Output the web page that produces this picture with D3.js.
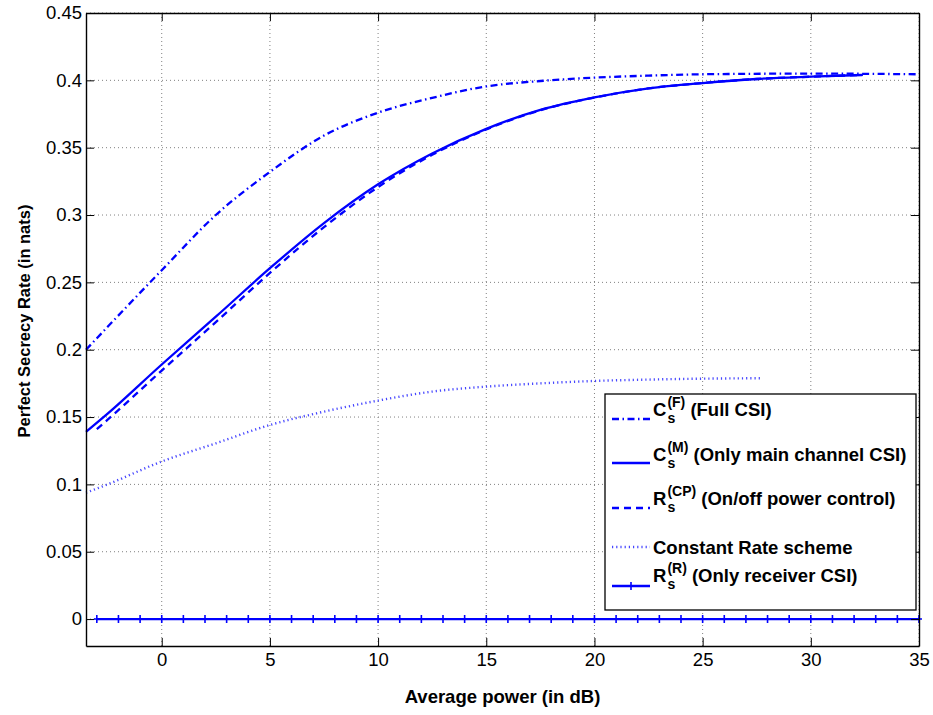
<!DOCTYPE html>
<html>
<head>
<meta charset="utf-8">
<script src="https://cdn.jsdelivr.net/npm/d3@7"></script>
<style>
  body { margin: 0; background: #fff; }
  text { font-family: "Liberation Sans", Arial, Helvetica, sans-serif; fill: #000; }
</style>
</head>
<body>
<div id="chart"></div>
<script>
// data
var fullX = [-3.5, -2.5, 0, 2.5, 5, 7.5, 10, 12.5, 15, 17.5, 20, 22.5, 25, 30, 35];
var fullY = [0.200, 0.217, 0.259, 0.300, 0.332, 0.359, 0.376, 0.387, 0.3955, 0.3995, 0.402, 0.4035, 0.4045, 0.405, 0.4045];

var mainX = [-3.5, -2.5, 0, 2.5, 5, 7.5, 10, 12.5, 15, 17.5, 20, 22.5, 25, 27.5, 30, 32.4];
var mainY = [0.139, 0.1525, 0.189, 0.2245, 0.2605, 0.294, 0.3228, 0.3457, 0.364, 0.378, 0.3873, 0.394, 0.398, 0.401, 0.4027, 0.404];

var cpX = [-3, -2.5, 0, 2.5, 5, 7.5, 10, 12.5, 15, 17.5, 20, 22.5, 25, 27.5, 30, 32.4];
var cpY = [0.141, 0.148, 0.1845, 0.2205, 0.257, 0.291, 0.3208, 0.3447, 0.3635, 0.3778, 0.3872, 0.394, 0.398, 0.401, 0.4027, 0.404];

var constX = [-3.5, -2.5, 0, 2.5, 5, 7.5, 10, 12.5, 15, 17.5, 20, 22.5, 25, 27.7];
var constY = [0.0938, 0.1, 0.117, 0.1305, 0.1441, 0.154, 0.1622, 0.1689, 0.1726, 0.175, 0.1768, 0.1778, 0.1785, 0.1788];

var recvX = [-3, -2, -1, 0, 1, 2, 3, 4, 5, 6, 7, 8, 9, 10, 11, 12, 13, 14, 15, 16, 17, 18, 19,
             20, 21, 22, 23, 24, 25, 26, 27, 28, 29, 30, 31, 32, 33, 34, 35];
var recvY = [0, 0, 0, 0, 0, 0, 0, 0, 0, 0, 0, 0, 0, 0, 0, 0, 0, 0, 0, 0, 0, 0, 0,
             0, 0, 0, 0, 0, 0, 0, 0, 0, 0, 0, 0, 0, 0, 0, 0];

var xTicks = [0, 5, 10, 15, 20, 25, 30, 35];
var yTicks = [0, 0.05, 0.1, 0.15, 0.2, 0.25, 0.3, 0.35, 0.4, 0.45];

// settings
var svgWidth = 933;
var svgHeight = 715;
var blue = "#0000ff";

var plot = { left: 86, right: 919, top: 13, bottom: 646 };

var svg = d3.select("#chart")
  .append("svg")
  .attr("width", svgWidth)
  .attr("height", svgHeight);

var x = d3.scaleLinear().domain([-3.5, 35]).range([plot.left, plot.right]);
var y = d3.scaleLinear().domain([-0.02, 0.45]).range([plot.bottom, plot.top]);

// dotted grid
var grid = svg.append("g");
grid.selectAll("line.gx")
  .data(xTicks)
  .enter().append("line")
  .attr("x1", d => x(d)).attr("x2", d => x(d))
  .attr("y1", plot.top).attr("y2", plot.bottom)
  .attr("stroke", "#808080").attr("stroke-width", 1)
  .attr("stroke-dasharray", "1,3");
grid.selectAll("line.gy")
  .data(yTicks)
  .enter().append("line")
  .attr("y1", d => y(d)).attr("y2", d => y(d))
  .attr("x1", plot.left).attr("x2", plot.right)
  .attr("stroke", "#808080").attr("stroke-width", 1)
  .attr("stroke-dasharray", "1,3");

// series
var series = [
  { xs: fullX, ys: fullY, dash: "7,3.5,1.5,3.5", width: 2.3, color: blue },
  { xs: mainX, ys: mainY, dash: null, width: 2.3, color: blue },
  { xs: cpX, ys: cpY, dash: "7,5", width: 2.3, color: blue },
  { xs: constX, ys: constY, dash: "1.2,3", width: 2.4, color: "#4646ff" },
  { xs: recvX, ys: recvY, dash: null, width: 2.3, color: blue }
];

var line = d3.line()
  .x(d => x(d[0]))
  .y(d => y(d[1]))
  .curve(d3.curveMonotoneX);

var lines = svg.append("g");
series.forEach(function (s) {
  var pts = s.xs.map((v, i) => [v, s.ys[i]]);
  lines.append("path")
    .datum(pts)
    .attr("d", line)
    .attr("fill", "none")
    .attr("stroke", s.color)
    .attr("stroke-width", s.width)
    .attr("stroke-dasharray", s.dash);
});

// + markers on receiver CSI line
lines.selectAll("path.plus")
  .data(recvX.map((v, i) => [v, recvY[i]]))
  .enter().append("path")
  .attr("d", d => `M${x(d[0])},${y(d[1]) - 4}V${y(d[1]) + 4}M${x(d[0]) - 3},${y(d[1])}H${x(d[0]) + 3}`)
  .attr("stroke", blue)
  .attr("stroke-width", 1.6);

// axes (MATLAB style box with inward ticks)
var tickLen = 8;
var bottomAxis = d3.axisBottom(x).tickValues(xTicks).tickSizeInner(-tickLen).tickSizeOuter(0).tickPadding(7);
var leftAxis = d3.axisLeft(y).tickValues(yTicks).tickSizeInner(-tickLen).tickSizeOuter(0).tickPadding(4)
  .tickFormat(d => d === 0 ? "0" : d3.format("")(+d.toFixed(2)));
var topAxis = d3.axisTop(x).tickValues(xTicks).tickSizeInner(-tickLen).tickSizeOuter(0).tickFormat("");
var rightAxis = d3.axisRight(y).tickValues(yTicks).tickSizeInner(-tickLen).tickSizeOuter(0).tickFormat("");

function styleAxis(g) {
  g.select(".domain").attr("stroke", "#000").attr("stroke-width", 1.4);
  g.selectAll(".tick line").attr("stroke", "#000").attr("stroke-width", 1);
  g.selectAll(".tick text").attr("font-size", "18.5px").attr("fill", "#000")
    .attr("font-family", "Liberation Sans, Arial, sans-serif");
}

svg.append("g").attr("transform", `translate(0,${plot.bottom})`).call(bottomAxis).call(styleAxis);
svg.append("g").attr("transform", `translate(${plot.left},0)`).call(leftAxis).call(styleAxis);
svg.append("g").attr("transform", `translate(0,${plot.top})`).call(topAxis).call(styleAxis);
svg.append("g").attr("transform", `translate(${plot.right},0)`).call(rightAxis).call(styleAxis);

// axis labels
svg.append("text")
  .attr("x", (plot.left + plot.right) / 2)
  .attr("y", 703)
  .attr("text-anchor", "middle")
  .attr("font-size", "18.5px")
  .attr("font-weight", "bold")
  .text("Average power (in dB)");

svg.append("text")
  .attr("transform", "translate(30,321) rotate(-90)")
  .attr("text-anchor", "middle")
  .attr("font-size", "16.5px")
  .attr("font-weight", "bold")
  .text("Perfect Secrecy Rate (in nats)");

// legend
var legendItems = [
  { main: "C", sup: "(F)", sub: "s", rest: " (Full CSI)", s: 0, base: 416, ly: 419 },
  { main: "C", sup: "(M)", sub: "s", rest: " (Only main channel CSI)", s: 1, base: 461, ly: 463 },
  { main: "R", sup: "(CP)", sub: "s", rest: " (On/off power control)", s: 2, base: 505, ly: 508 },
  { main: "Constant Rate scheme", sup: "", sub: "", rest: "", s: 3, base: 554, ly: 547 },
  { main: "R", sup: "(R)", sub: "s", rest: " (Only receiver CSI)", s: 4, base: 582, ly: 586 }
];

var legend = svg.append("g");
legend.append("rect")
  .attr("x", 605).attr("y", 394)
  .attr("width", 311).attr("height", 216)
  .attr("fill", "#fff")
  .attr("stroke", "#000")
  .attr("stroke-width", 1.3);

var textX = 653;
legendItems.forEach(function (it) {
  var s = series[it.s];
  legend.append("line")
    .attr("x1", 612).attr("x2", 650)
    .attr("y1", it.ly).attr("y2", it.ly)
    .attr("stroke", s.color)
    .attr("stroke-width", s.width)
    .attr("stroke-dasharray", s.dash);
  if (it.s === 4) {
    legend.append("path")
      .attr("d", `M631,${it.ly - 4}V${it.ly + 4}M628,${it.ly}H634`)
      .attr("stroke", blue).attr("stroke-width", 1.6);
  }
  var t = legend.append("text")
    .attr("x", textX).attr("y", it.base)
    .attr("font-size", "18.5px").attr("font-weight", "bold")
    .text(it.main);
  if (!it.sup) return;
  var sx = textX + t.node().getComputedTextLength() + 1;
  var sp = legend.append("text")
    .attr("x", sx).attr("y", it.base - 9)
    .attr("font-size", "14px").attr("font-weight", "bold")
    .text(it.sup);
  legend.append("text")
    .attr("x", sx).attr("y", it.base + 7)
    .attr("font-size", "14px").attr("font-weight", "bold")
    .text(it.sub);
  legend.append("text")
    .attr("x", sx + sp.node().getComputedTextLength())
    .attr("y", it.base)
    .attr("font-size", "18.5px").attr("font-weight", "bold")
    .attr("xml:space", "preserve")
    .style("white-space", "pre")
    .text(it.rest);
});
</script>
</body>
</html>
